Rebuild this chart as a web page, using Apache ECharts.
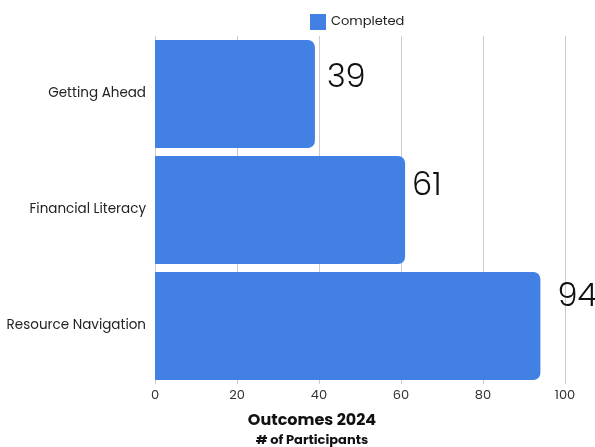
<!DOCTYPE html>
<html><head><meta charset="utf-8">
<script src="https://cdn.jsdelivr.net/npm/echarts@6/dist/echarts.min.js"></script>
<style>html,body{margin:0;padding:0;background:#fff}#c{width:595px;height:447px}</style>
</head><body><div id="c"></div>
<script>
const categories = ['Getting Ahead', 'Financial Literacy', 'Resource Navigation'];
const completed = [39, 61, 94];
const seriesName = 'Completed';
// label placement tweaks (layout only), [dx, dy] per bar
const labelOffsets = [[12, -15], [7, -23], [17, -28]];
const chart = echarts.init(document.getElementById('c'));
const font = 'Poppins, Inter, "Noto Sans", sans-serif';
chart.setOption({
  animation: false,
  textStyle: { fontFamily: font },
  title: {
    text: 'Outcomes 2024', subtext: '# of Participants',
    left: 307, top: 408, textAlign: 'center', itemGap: 5,
    textStyle: { fontSize: 16, fontWeight: 'bold', color: '#111', fontFamily: font },
    subtextStyle: { fontSize: 13, fontWeight: 'bold', color: '#111', fontFamily: font }
  },
  legend: {
    data: [seriesName], top: 9, left: 305, icon: 'rect',
    itemWidth: 16, itemHeight: 16, itemGap: 6,
    textStyle: { fontSize: 13, color: '#222', fontFamily: font }
  },
  grid: { left: 155, right: 30, top: 36, bottom: 63, containLabel: false },
  xAxis: {
    type: 'value', min: 0, max: 100, interval: 20,
    axisLine: { show: false }, axisTick: { show: false },
    axisLabel: { fontSize: 13, color: '#333', margin: 5, fontFamily: font },
    splitLine: { lineStyle: { color: '#cccccc', width: 1 } }
  },
  yAxis: {
    type: 'category', data: categories, inverse: true,
    axisLine: { show: false }, axisTick: { show: false },
    axisLabel: { fontSize: 13.5, color: '#222', margin: 9, padding: [9, 0, 0, 0], fontFamily: font }
  },
  series: [{
    name: seriesName, type: 'bar', barWidth: '93%',
    data: completed.map((v, i) => ({ value: v, label: { offset: labelOffsets[i] } })),
    itemStyle: { color: '#4281E3', borderRadius: [0, 7, 7, 0] },
    label: {
      show: true, position: 'right', distance: 0,
      fontSize: 32, fontWeight: 300, color: '#111', fontFamily: font
    }
  }]
});
</script></body></html>
